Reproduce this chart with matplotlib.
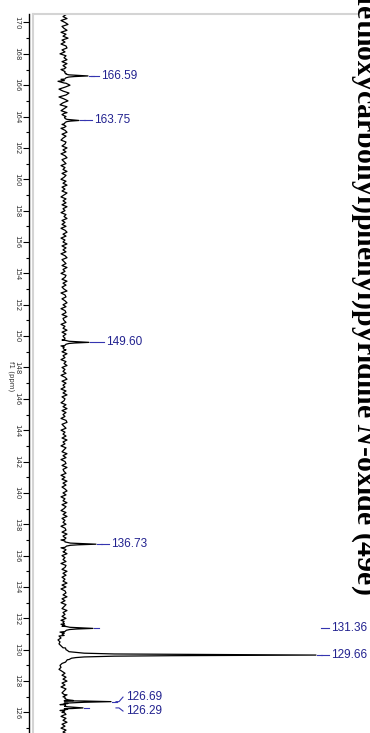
import numpy as np
import matplotlib.pyplot as plt
from matplotlib.lines import Line2D
from matplotlib.ticker import MultipleLocator

plt.rcParams['mathtext.fontset'] = 'custom'
plt.rcParams['mathtext.it'] = 'Liberation Serif:italic:bold'
plt.rcParams['mathtext.rm'] = 'Liberation Serif:bold'

base_start = 170.5
base_step = 0.125
base_vals = [2, -1, 3, -3, 1, 4, -2, 0, 3, -3, 2, -1, 4, -2, 1, -3, 2, 3, -2, 1, -4, 2, 0, 3,
             -2, 3, -1, 2, -3, 1, 2, 0, 0, -3, -6, 2, 6, 1, -5, -1, 5, 2, -5, 0, 4, -1, -4, 3,
             0, -3, 3, -2, 2, 0, 0, 0, -2, 2, -3, 1, 3, -2, 2, -1, -3, 2, 1, -2, 3, -1, 2, -3,
             1, 3, -2, 0, 2, -3, 1, -1, 3, -2, 2, 0, -3, 2, -1, 3, -2, 1, -2, 3, 0, -3, 2, -1,
             2, -2, 3, -1, 1, -3, 2, 0, 3, -2, 1, -2, 2, -3, 1, 3, -1, 2, -3, 1, -1, 3, -2, 2,
             -1, 2, -3, 1, 3, -2, 0, 2, -2, 3, -1, 1, -3, 2, 1, -2, 3, -1, 2, -2, 0, 3, -3, 1,
             2, -2, 1, 3, -1, 2, -3, 1, 2, -2, 3, -1, 0, 2, -3, 1, -1, 3, -2, 2, -1, 1, -2, 0,
             0, -3, -1, 2, -2, 3, -1, 1, -3, 2, 0, 3, -2, 1, -1, 2, -3, 1, 3, -2, 2, -1, 1, -3,
             2, -1, 3, -2, 1, 0, -3, 2, -1, 3, -2, 2, -1, 1, -3, 2, 3, -2, 0, 2, -3, 1, -1, 2,
             -2, 3, -1, 1, -3, 2, 0, -2, 3, -1, 2, -3, 1, 2, -2, 3, -1, 0, 2, -3, 1, -2, 3, -1,
             2, -2, 1, 3, -1, 2, -3, 1, -1, 3, -2, 2, 0, -3, 2, -1, 3, -2, 1, -1, 2, -3, 1, 2,
             -2, 3, -1, 2, -3, 1, 0, 0, -3, 2, -1, 3, -2, 1, -1, 2, -3, 2, 1, -2, 3, -1, 2, -2,
             1, -1, 3, -2, 2, -3, 1, 2, -1, 3, -2, 1, -3, 2, 0, -2, 3, -1, 1, -2, 2, -3, -1, -3,
             -2, 0, 0, -4, -2, -5, -3, -6, -4, -5, -3, -1, 2, 5, 0, 0, 12, 5, 2, -2, -4, -3, -5, -2,
             1, -2, 2, -1, 3, -2, 1, -3, 2, 0, -2, 3, -1, 1, 0, 0, -4, 0, 0, -4, -2, 2, -3, 2,
             -1, 3, -2, 1, -3, 2, -1, 3, -2]

peak_ppm = [166.59, 163.75, 149.60, 136.73, 131.36, 129.66, 126.69, 126.29]
peak_height = [24, 15, 25, 32, 29, 252, 47, 19]

# line shape read from the 129.66 signal: ppm offset and fraction of height
shape_dppm = [0.45, 0.30, 0.20, 0.12, 0.07, 0.04, 0.02, 0.0]
shape_frac = [0.006, 0.013, 0.03, 0.08, 0.2, 0.43, 0.75, 1.0]

title = r'2-(4-(Methoxycarbonyl)phenyl)pyridine $N$-oxide (49e)'

# label placement (intensity units / ppm)
label_x = [37, 30, 42, 47, 267, 267, 62, 62]
label_y = [166.59, 163.75, 149.60, 136.73, 131.36, 129.66, 126.98, 126.09]

base_ppm = base_start - base_step * np.arange(len(base_vals))
base_vals = np.array(base_vals, dtype=float)
keep = np.ones(len(base_ppm), bool)
for p in peak_ppm:
    keep &= np.abs(base_ppm - p) > 0.13

trace_ppm = list(base_ppm[keep])
trace_int = list(base_vals[keep])
for p, h in zip(peak_ppm, peak_height):
    for d, f in zip(shape_dppm, shape_frac):
        trace_ppm.append(p + d)
        trace_int.append(h * f)
        if d > 0:
            trace_ppm.append(p - d)
            trace_int.append(h * f)
order = np.argsort(trace_ppm)
trace_ppm = np.array(trace_ppm)[order]
trace_int = np.array(trace_int)[order]

W, H = 370, 733
fig = plt.figure(figsize=(W / 100, H / 100), dpi=100)
ax = fig.add_axes([29 / W, 0, (357 - 29) / W, (H - 14) / H])

ax.plot(trace_int, trace_ppm, color='black', lw=0.9)
ax.set_xlim(-35, 293)
ax.set_ylim(124.69, 170.54)

blue = '#22228f'
for p, h, lx, ly in zip(peak_ppm, peak_height, label_x, label_y):
    ax.plot([h + 1, h + 6], [p, p], color='#3535b0', lw=0.8)
    if ly == p:
        ax.plot([lx - 10, lx - 2], [p, p], color='#3535b0', lw=0.8)
    else:
        ax.plot([lx - 10, lx - 7, lx - 3], [p, p, ly], color='#3535b0', lw=0.8)
    ax.text(lx, ly, f'{p:.2f}', color=blue, fontsize=8.5, family='Liberation Sans',
            ha='left', va='center', clip_on=False)

ax.yaxis.set_major_locator(MultipleLocator(2))
ax.yaxis.set_minor_locator(MultipleLocator(1))
ax.tick_params(axis='y', which='major', length=4, width=0.8, labelsize=5, pad=2,
               labelrotation=270, labelcolor='#333333')
ax.tick_params(axis='y', which='minor', length=2.5, width=0.8)
plt.setp(ax.get_yticklabels(), va='center')
ax.xaxis.set_visible(False)
for s in ['top', 'right', 'bottom']:
    ax.spines[s].set_visible(False)
ax.spines['left'].set_linewidth(1.0)

fig.text(11 / W, 1 - 376 / H, 'f1 (ppm)', rotation=270, ha='center', va='center',
         fontsize=5, color='#333333')

# light frame
fig.add_artist(Line2D([33 / W, 33 / W], [0, 1 - 14 / H], color='#d4d4d4', lw=1.5))
fig.add_artist(Line2D([33 / W, 357 / W], [1 - 14 / H, 1 - 14 / H], color='#d4d4d4', lw=1.5))

fig.text(357 / W, 1 - 595 / H, title, rotation=270, rotation_mode='anchor',
         ha='right', va='baseline', fontsize=21.5, fontweight='bold',
         family='Liberation Serif')

fig.savefig('out.png', dpi=100)
